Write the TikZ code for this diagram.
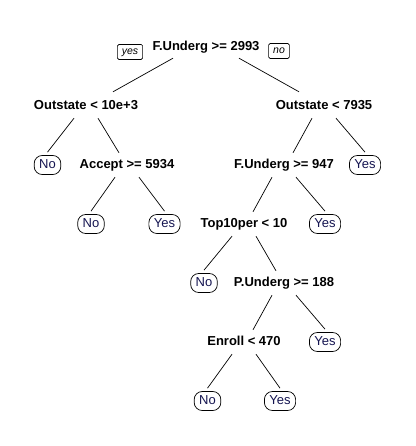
\documentclass[tikz,border=0pt]{standalone}
\usepackage{fontspec}
\setmainfont{Liberation Sans}
\usepackage{tikz}
\usetikzlibrary{positioning}
\definecolor{leafblue}{RGB}{20,20,80}
\tikzstyle{split} = [text height=9.5pt, text depth=2.5pt, inner sep=0pt, font=\fontsize{13}{15}\selectfont\bfseries]
\tikzstyle{leaf} = [rectangle, rounded corners=8pt, minimum height=19pt, inner xsep=5pt, inner ysep=0pt, text height=9.5pt, text depth=2.5pt, draw=black, line width=0.7pt, text=leafblue, font=\fontsize{13}{15}\selectfont]
\tikzstyle{side} = [rectangle, rounded corners=1.5pt, minimum height=15pt, inner xsep=4.5pt, inner ysep=0pt, text height=8pt, text depth=2pt, draw=black, line width=0.6pt, font=\fontsize{10.5}{12}\selectfont\itshape]
\tikzstyle{branch} = [line width=0.7pt]

\begin{document}
\begin{tikzpicture}[x=1pt, y=-1pt, node distance=59pt]
   \useasboundingbox (0,0) rectangle (415,446);
   \node (root) [split] at (206,47) {F.Underg >= 2993};
   \node (yes) [side] at (130,52) {yes};
   \node (no) [side] at (279,51) {no};
   \node (s1) [split, below of=root, xshift=-120pt] {Outstate < 10e+3};
   \node (s2) [split, below of=root, xshift=118pt] {Outstate < 7935};
   \node (l1) [leaf, below of=s1, xshift=-38.5pt] {No};
   \node (s3) [split, below of=s1, xshift=41pt] {Accept >= 5934};
   \node (s4) [split, below of=s2, xshift=-40pt] {F.Underg >= 947};
   \node (l2) [leaf, below of=s2, xshift=41pt] {Yes};
   \node (l3) [leaf, below of=s3, xshift=-36pt] {No};
   \node (l4) [leaf, below of=s3, xshift=37.5pt] {Yes};
   \node (s5) [split, below of=s4, xshift=-40pt] {Top10per < 10};
   \node (l5) [leaf, below of=s4, xshift=41pt] {Yes};
   \node (l6) [leaf, below of=s5, xshift=-40pt] {No};
   \node (s6) [split, below of=s5, xshift=40pt] {P.Underg >= 188};
   \node (s7) [split, below of=s6, xshift=-40pt] {Enroll < 470};
   \node (l7) [leaf, below of=s6, xshift=41pt] {Yes};
   \node (l8) [leaf, below of=s7, xshift=-36.5pt] {No};
   \node (l9) [leaf, below of=s7, xshift=36pt] {Yes};
   \draw [branch] ([xshift=-33pt,yshift=-5pt]root.south) -- ([xshift=27pt,yshift=8pt]s1.north);
   \draw [branch] ([xshift=33pt,yshift=-5pt]root.south) -- ([xshift=-25pt,yshift=8pt]s2.north);
   \draw [branch] ([xshift=-12pt,yshift=-6pt]s1.south) -- ([yshift=3pt]l1.north);
   \draw [branch] ([xshift=12pt,yshift=-6pt]s1.south) -- ([xshift=-8pt,yshift=6pt]s3.north);
   \draw [branch] ([xshift=-12pt,yshift=-6pt]s2.south) -- ([xshift=9pt,yshift=6pt]s4.north);
   \draw [branch] ([xshift=12pt,yshift=-6pt]s2.south) -- ([yshift=3pt]l2.north);
   \draw [branch] ([xshift=-12pt,yshift=-6pt]s3.south) -- ([yshift=3pt]l3.north);
   \draw [branch] ([xshift=12pt,yshift=-6pt]s3.south) -- ([yshift=3pt]l4.north);
   \draw [branch] ([xshift=-12pt,yshift=-6pt]s4.south) -- ([xshift=9pt,yshift=6pt]s5.north);
   \draw [branch] ([xshift=12pt,yshift=-6pt]s4.south) -- ([yshift=3pt]l5.north);
   \draw [branch] ([xshift=-12pt,yshift=-6pt]s5.south) -- ([yshift=3pt]l6.north);
   \draw [branch] ([xshift=12pt,yshift=-6pt]s5.south) -- ([xshift=-8pt,yshift=6pt]s6.north);
   \draw [branch] ([xshift=-12pt,yshift=-6pt]s6.south) -- ([xshift=9pt,yshift=6pt]s7.north);
   \draw [branch] ([xshift=12pt,yshift=-6pt]s6.south) -- ([yshift=3pt]l7.north);
   \draw [branch] ([xshift=-12pt,yshift=-6pt]s7.south) -- ([yshift=3pt]l8.north);
   \draw [branch] ([xshift=12pt,yshift=-6pt]s7.south) -- ([yshift=3pt]l9.north);
\end{tikzpicture}
\end{document}
